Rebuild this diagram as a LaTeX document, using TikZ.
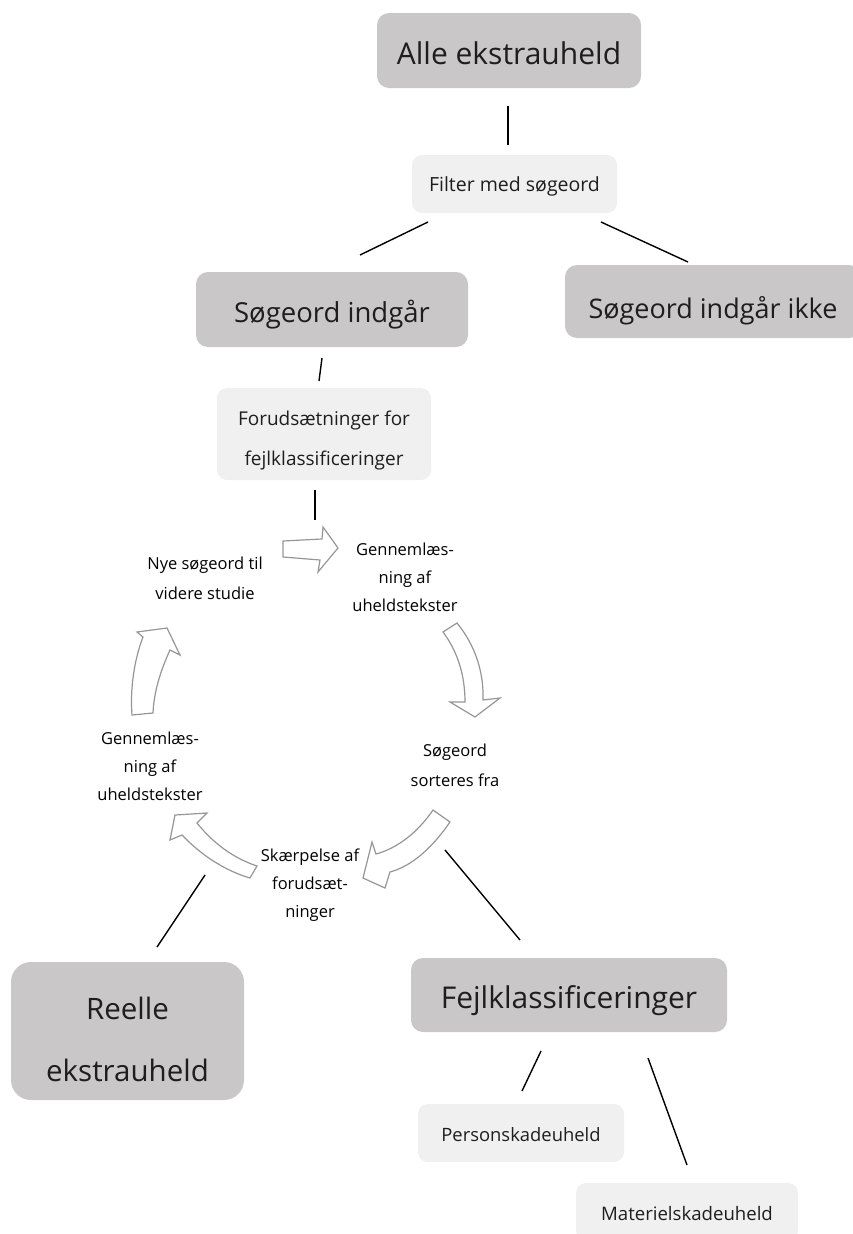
\documentclass[tikz,border=0pt]{standalone}
\usepackage{fontspec}
\setmainfont{Open Sans}
\usepackage{xcolor}
\usepackage{tikz}
\usetikzlibrary{positioning, calc}

\definecolor{boxdark}{RGB}{201,199,199}
\definecolor{boxlight}{RGB}{240,240,240}
\definecolor{arrowgray}{RGB}{150,150,150}
\definecolor{txt}{RGB}{30,30,30}

\begin{document}
\begin{tikzpicture}[x=1pt, y=-1pt,
  darkbox/.style={fill=boxdark, rounded corners=12pt, inner sep=0pt},
  lightbox/.style={fill=boxlight, rounded corners=10pt, inner sep=0pt},
  boxtext/.style={align=center, text=txt, inner sep=0pt},
  cyctext/.style={align=center, text=black, inner sep=1pt, font=\fontsize{16.5}{28}\selectfont},
  blockarrow/.style={draw=arrowgray, fill=white, line width=1.2pt, line join=miter},
  link/.style={draw=black, line width=1.4pt}]

\useasboundingbox (0,0) rectangle (852,1234);

% Top boxes
\node[darkbox, minimum width=264pt, minimum height=75pt] (alle) at (509,50.5) {};
\node[boxtext, font=\fontsize{30}{36}\selectfont] (alle-t) at ($(alle)+(0,3)$) {Alle ekstrauheld};

\node[lightbox, minimum width=205pt, minimum height=58pt] (filter) at (514.5,184) {};
\node[boxtext, font=\fontsize{19.5}{24}\selectfont] (filter-t) at ($(filter)+(0,2)$) {Filter med søgeord};

\node[darkbox, minimum width=272pt, minimum height=75pt] (ind) at (332,309.5) {};
\node[boxtext, font=\fontsize{27.5}{32}\selectfont] (ind-t) at ($(ind)+(0,5)$) {Søgeord indgår};

\node[darkbox, minimum width=296pt, minimum height=73pt] (ikke) at (713,301.5) {};
\node[boxtext, font=\fontsize{27}{32}\selectfont] (ikke-t) at ($(ikke)+(0,9)$) {Søgeord indgår ikke};

\node[lightbox, minimum width=214pt, minimum height=92pt] (foru) at (324,434) {};
\node[boxtext, font=\fontsize{19}{40}\selectfont] (foru-t) at ($(foru)+(0,7)$) {Forudsætninger for\\fejlklassificeringer};

% Cycle texts
\node[cyctext, font=\fontsize{16.5}{30}\selectfont] (nye) at (205,578) {Nye søgeord til\\videre studie};
\node[cyctext] (genA) at (405,577) {Gennemlæs-\\ning af\\uheldstekster};
\node[cyctext, font=\fontsize{16.5}{30}\selectfont] (sort) at (455,765) {Søgeord\\sorteres fra};
\node[cyctext] (skaer) at (310,885) {Skærpelse af\\forudsæt-\\ninger};
\node[cyctext] (genB) at (150,766) {Gennemlæs-\\ning af\\uheldstekster};

% Cycle arrows
\draw[blockarrow] (283,541) -- (322,539) -- (323,527) -- (338,548) -- (318,572) -- (320,560) -- (283,557) -- cycle;
\draw[blockarrow] (443,632) -- (457,623) .. controls (475,645) and (484,672) .. (483,700)
  -- (500,698) -- (475,717) -- (450,702) -- (465,702) .. controls (465,676) and (458,652) .. (443,632) -- cycle;
\draw[blockarrow] (433,810) -- (450,822) .. controls (432,848) and (412,866) .. (390,872)
  -- (385,888) -- (363,878) -- (372,842) -- (376,854) .. controls (398,848) and (418,832) .. (433,810) -- cycle;
\draw[blockarrow] (207,813) -- (175,815) -- (170,840) -- (182,835) .. controls (202,856) and (226,871) .. (250,878)
  -- (257,866) .. controls (233,858) and (213,843) .. (197,823) -- cycle;
\draw[blockarrow] (132,715) .. controls (130,690) and (134,660) .. (143,637) -- (137,632) -- (167,628)
  -- (180,655) -- (170,650) .. controls (160,672) and (154,692) .. (153,713) -- cycle;

% Bottom boxes
\node[darkbox, rounded corners=20pt, minimum width=233pt, minimum height=138pt] (reelle) at (127.5,1031) {};
\node[boxtext, font=\fontsize{29.5}{62}\selectfont] (reelle-t) at ($(reelle)+(0,8)$) {Reelle\\ekstrauheld};

\node[darkbox, minimum width=316pt, minimum height=74pt] (fejl) at (569,995) {};
\node[boxtext, font=\fontsize{30}{36}\selectfont] (fejl-t) at ($(fejl)+(0,6)$) {Fejlklassificeringer};

\node[lightbox, minimum width=206pt, minimum height=58pt] (pers) at (521,1133) {};
\node[boxtext, font=\fontsize{18.4}{24}\selectfont] (pers-t) at ($(pers)+(0,2)$) {Personskadeuheld};

\node[lightbox, minimum width=222pt, minimum height=58pt] (mat) at (687,1212) {};
\node[boxtext, font=\fontsize{18.6}{24}\selectfont] (mat-t) at ($(mat)+(0,2)$) {Materielskadeuheld};

% Connector ends
\coordinate (a1) at (508,106);  \coordinate (a2) at (508,145);
\coordinate (b1) at (428,222);  \coordinate (b2) at (360,255);
\coordinate (c1) at (601,222);  \coordinate (c2) at (688,262);
\coordinate (d1) at (322,358);  \coordinate (d2) at (319,381);
\coordinate (e1) at (315,490);  \coordinate (e2) at (315,520);
\coordinate (f1) at (205,875);  \coordinate (f2) at (157,947);
\coordinate (g1) at (445,850);  \coordinate (g2) at (520,940);
\coordinate (h1) at (541,1051); \coordinate (h2) at (522,1091);
\coordinate (k1) at (648,1058); \coordinate (k2) at (687,1165);

% Connectors
\draw[link] (a1) -- (a2);
\draw[link] (b1) -- (b2);
\draw[link] (c1) -- (c2);
\draw[link] (d1) -- (d2);
\draw[link] (e1) -- (e2);
\draw[link] (f1) -- (f2);
\draw[link] (g1) -- (g2);
\draw[link] (h1) -- (h2);
\draw[link] (k1) -- (k2);

\end{tikzpicture}
\end{document}
